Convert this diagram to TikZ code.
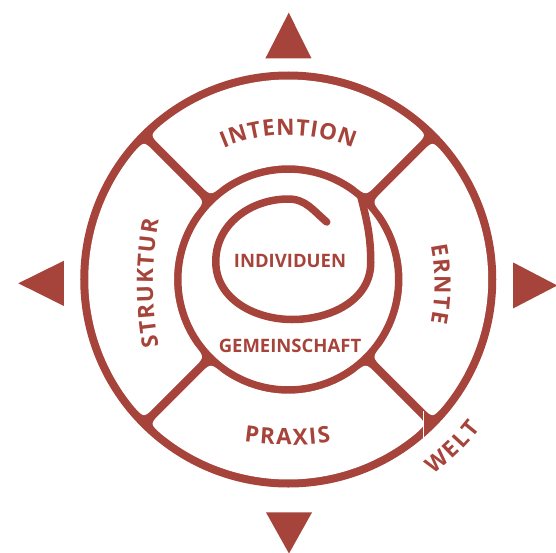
\documentclass[tikz,border=0pt]{standalone}
\usepackage{fontspec}
\newfontfamily\lblfont{Open Sans}[UprightFont={* Bold}]
\usetikzlibrary{calc,decorations.text}
\definecolor{weltred}{RGB}{166,67,58}

\tikzset{
  ring/.style={fill=weltred, even odd rule},
  gap/.style={fill=white},
  spiral/.style={draw=weltred, line width=7.5pt, line cap=round},
  bandlabel/.style={decorate, decoration={text along path, text align=fit to path,
    text color=weltred, text={|\lblfont\fontsize{22.5}{22.5}\selectfont|#1}}},
  corelabel/.style={text=weltred, inner sep=0pt,
    font=\lblfont\fontsize{18.5}{18.5}\selectfont},
}

\begin{document}
\begin{tikzpicture}[x=1pt,y=1pt]
\useasboundingbox (-288.25,-272.5) rectangle (267.75,279.5);
% the four direction marks
\fill[weltred] (-22.8,221.2) -- (23.2,221.2) -- (0.5,266.8) -- cycle;
\fill[weltred] (-22.25,-232.9) -- (23.75,-232.9) -- (0.75,-274) -- cycle;
\fill[weltred] (-269.95,-3.8) -- (-224.25,18.8) -- (-224.25,-26.5) -- cycle;
\fill[weltred] (224.75,17.1) -- (224.75,-29) -- (269,-6) -- cycle;
% ring, dividers and the four fields
\fill[ring] (0,0) circle[radius=208] (0,0) circle[radius=106.75];
\foreach \c in {90,0,-90,180}{
  \coordinate (i1) at (\c-42.87:114.25);
  \coordinate (o1) at (\c-43.78:200);
  \coordinate (o2) at (\c+43.78:200);
  \coordinate (i2) at (\c+42.87:114.25);
  \fill[gap] ($(i1)!15pt!(o1)$) -- ($(o1)!15pt!(i1)$) .. controls (o1) .. (\c-39.48:200)
    arc[start angle=\c-39.48, end angle=\c+39.48, radius=200]
    .. controls (o2) .. ($(o2)!15pt!(i2)$) -- ($(i2)!15pt!(o2)$) .. controls (i2) .. (\c+35.35:114.25)
    arc[start angle=\c+35.35, end angle=\c-35.35, radius=114.25]
    .. controls (i1) .. ($(i1)!15pt!(o1)$) -- cycle;
}
% spiral inside the core
\draw[spiral] (49:110.5) to[out=-76,in=90] (82.5,17) to[out=-90,in=0] (4,-40)
  to[out=180,in=-90] (-72.5,18) to[out=90,in=180] (0,80.5) to[out=0,in=140] (38.5,57.5);
\draw[white, line width=0.9pt] (135.25,-131.5) -- (135.25,-164.5);
% labels in the fields
\path[bandlabel=INTENTION] ([shift={(0,-20.5)}]113.1:165) arc[start angle=113.1, end angle=66.9, radius=165];
\path[bandlabel=ERNTE] ([shift={(-53.75,-4.5)}]11.2:200) arc[start angle=11.2, end angle=-11.2, radius=200];
\path[bandlabel=PRAXIS] ([shift={(-0.75,134.5)}]261.7:300) arc[start angle=261.7, end angle=278.3, radius=300];
\path[bandlabel=STRUKTUR] ([shift={(214.75,-3.8)}]190.4:350) arc[start angle=190.4, end angle=169.6, radius=350];
\path[bandlabel=WELT] (-53.3:243) arc[start angle=-53.3, end angle=-37.7, radius=243];
\node[corelabel] (individuen) at (1.75,18.8) {INDIVIDUEN};
\node[corelabel] (gemeinschaft) at (1.75,-66.5) {GEMEINSCHAFT};
\end{tikzpicture}
\end{document}
